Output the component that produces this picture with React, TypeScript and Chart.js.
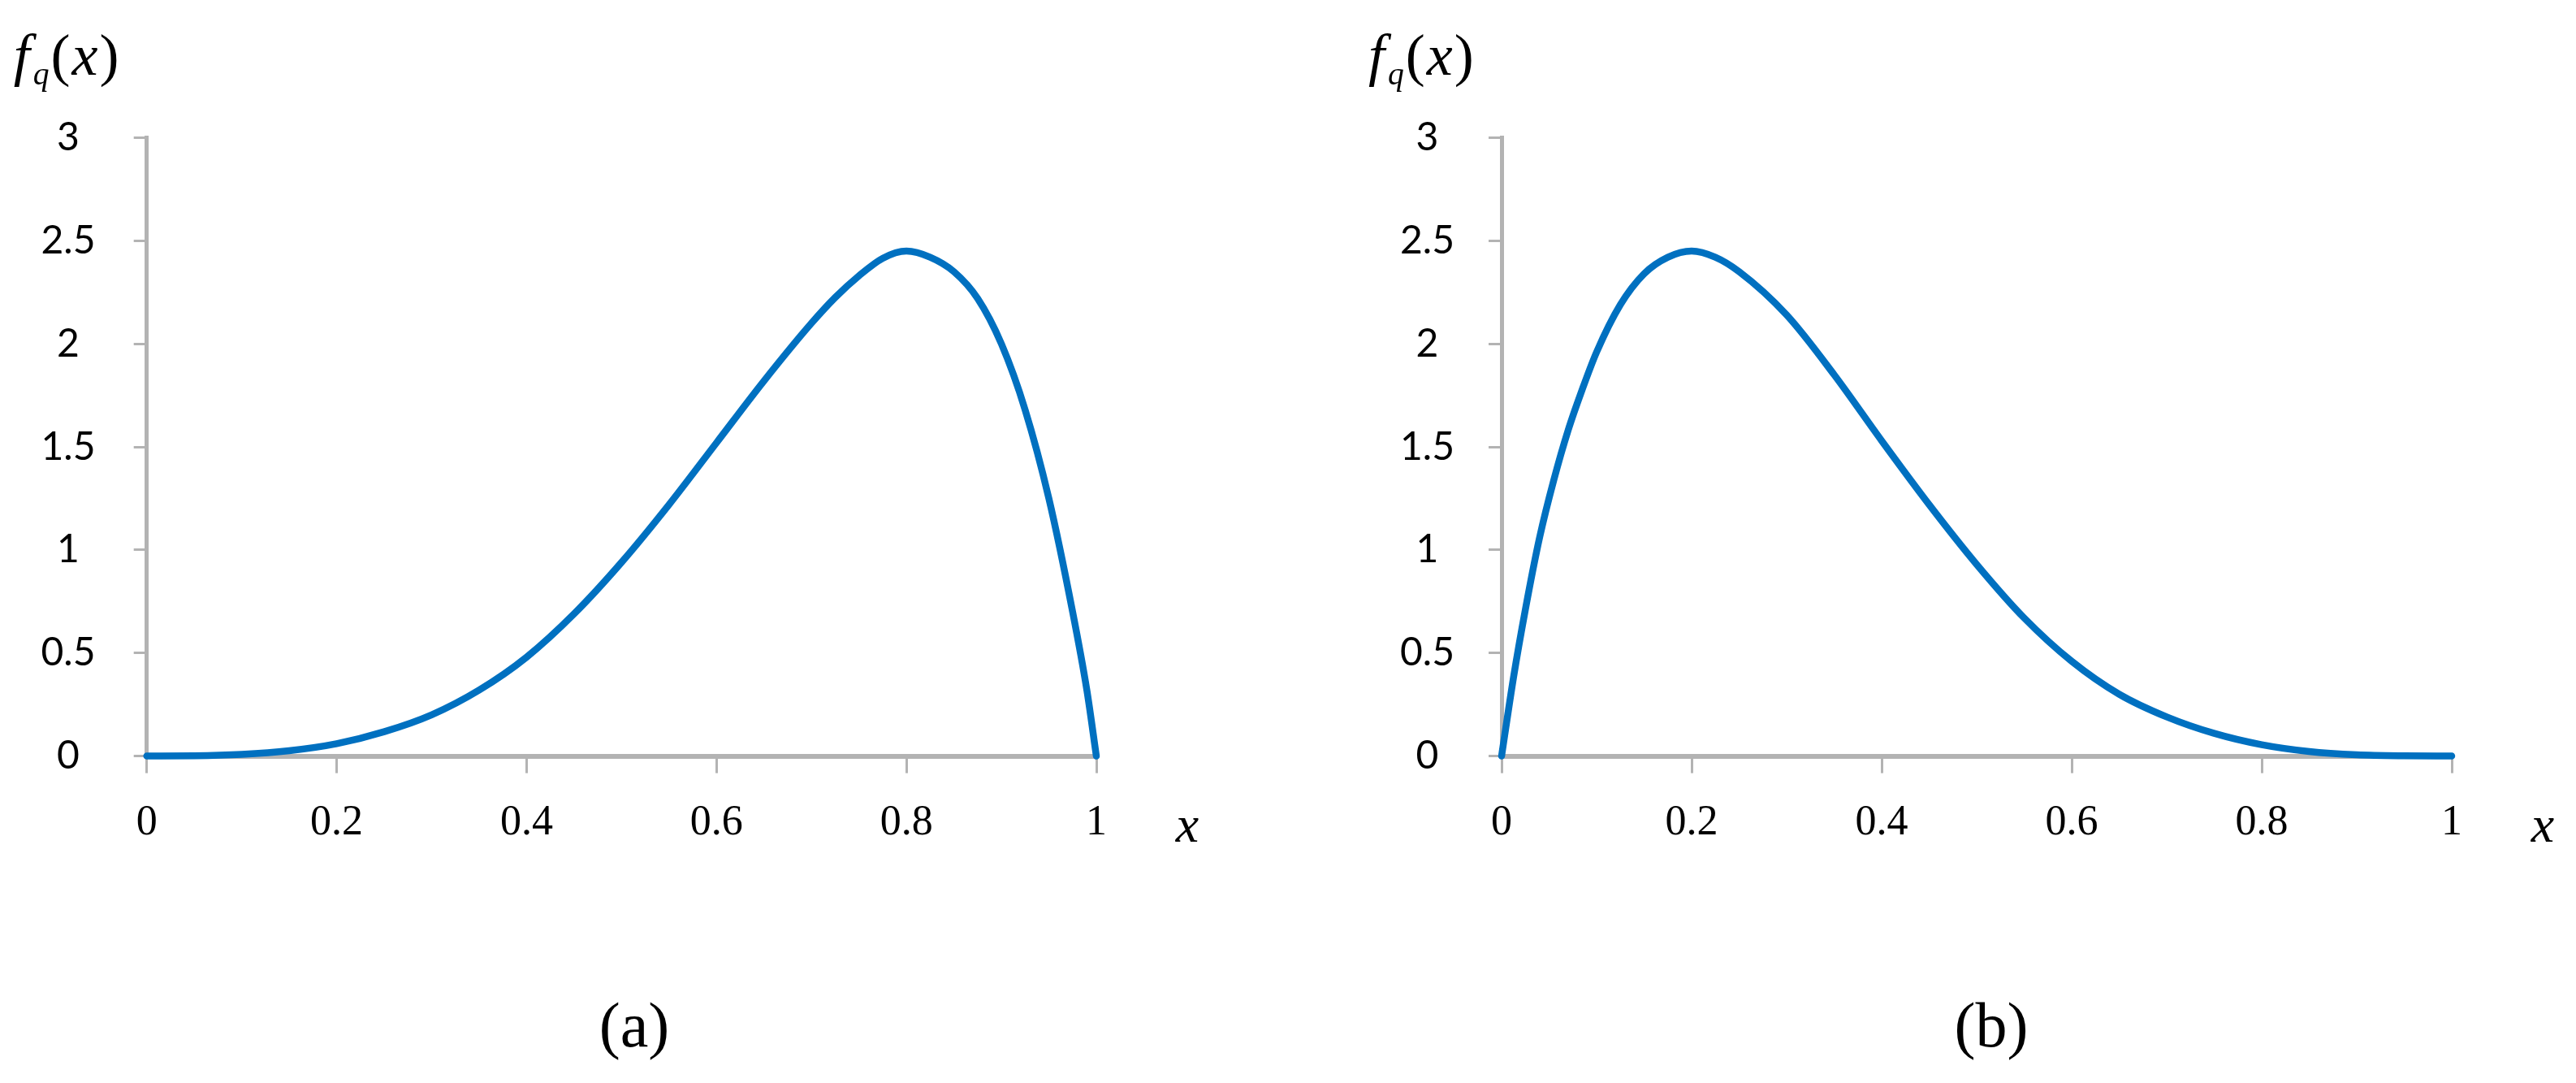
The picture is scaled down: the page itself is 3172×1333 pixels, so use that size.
import React, { useEffect, useRef } from 'react';
import { Chart, registerables } from 'chart.js';

Chart.register(...registerables);

// ---- data ----
const panelAX = [0, 0.05, 0.1, 0.15, 0.2, 0.25, 0.3, 0.35, 0.4, 0.45, 0.5, 0.55, 0.6, 0.65, 0.7, 0.725, 0.75, 0.775, 0.8, 0.825, 0.85, 0.875, 0.9, 0.925, 0.95, 0.975, 0.99, 1];
const panelAY = [0, 0.001, 0.008, 0.026, 0.06, 0.118, 0.2, 0.32, 0.48, 0.69, 0.94, 1.22, 1.52, 1.82, 2.1, 2.225, 2.33, 2.415, 2.45, 2.42, 2.35, 2.22, 2.0, 1.68, 1.25, 0.7, 0.32, 0];

const panelBX = [0, 0.0125, 0.025, 0.04, 0.055, 0.07, 0.085, 0.1, 0.125, 0.15, 0.175, 0.2, 0.225, 0.25, 0.3, 0.35, 0.4, 0.45, 0.5, 0.55, 0.6, 0.65, 0.7, 0.75, 0.8, 0.85, 0.9, 0.95, 1];
const panelBY = [0, 0.38, 0.71, 1.06, 1.34, 1.58, 1.78, 1.96, 2.19, 2.34, 2.42, 2.45, 2.42, 2.35, 2.14, 1.85, 1.53, 1.22, 0.93, 0.67, 0.46, 0.3, 0.19, 0.11, 0.055, 0.022, 0.006, 0.001, 0];

const xTickValues = [0, 0.2, 0.4, 0.6, 0.8, 1];
const yTickValues = [0, 0.5, 1, 1.5, 2, 2.5, 3];
const panelLabels = ['(a)', '(b)'];
const yAxisTitle = 'f';
const yAxisTitleSub = 'q';
const xAxisTitle = 'x';

// ---- layout ----
const W = 3172;
const H = 1333;
const PLOT_TOP = 169.5;
const PLOT_BOTTOM = 930.6;
const X_AXIS_H = 150;
const Y_TICK_LEN = 16;
const X_TICK_LEN = 21;
const Y_FONT_FAMILY = 'Lato';
const Y_FONT_SIZE = 48;
const X_FONT_FAMILY = '"Liberation Serif"';
const X_FONT_SIZE = 52;
const AXIS_GRAY = '#B3B3B3';
const LINE_BLUE = '#0070C0';

type Panel = {
  canvasLeft: number;
  canvasWidth: number;
  axisLeft: number;
  axisRight: number;
  yLabelCenter: number;
  xs: number[];
  ys: number[];
  label: string;
  labelCenter: number;
};

const panels: Panel[] = [
  { canvasLeft: 0, canvasWidth: 1586, axisLeft: 180.7, axisRight: 1350, yLabelCenter: 84, xs: panelAX, ys: panelAY, label: panelLabels[0], labelCenter: 781 },
  { canvasLeft: 1586, canvasWidth: 1586, axisLeft: 1849, axisRight: 3019, yLabelCenter: 1757.5, xs: panelBX, ys: panelBY, label: panelLabels[1], labelCenter: 2452 },
];

function measureWidest(labels: string[], font: string): number {
  const c = document.createElement('canvas');
  const ctx = c.getContext('2d');
  if (!ctx) return 60;
  ctx.font = font;
  let w = 0;
  labels.forEach((l) => { w = Math.max(w, ctx.measureText(l).width); });
  return w;
}

function ChartPanel({ p }: { p: Panel }) {
  const ref = useRef<HTMLCanvasElement | null>(null);
  useEffect(() => {
    if (!ref.current) return;
    const axisW = p.axisLeft - p.canvasLeft;
    const widest = measureWidest(yTickValues.map((v) => String(v)), `${Y_FONT_SIZE}px ${Y_FONT_FAMILY}`);
    const yPad = axisW - Y_TICK_LEN - (p.yLabelCenter - p.canvasLeft) - widest / 2;
    const xPad = 1013.5 - PLOT_BOTTOM - X_TICK_LEN - (X_FONT_SIZE * 1.2) / 2;
    const chart = new Chart(ref.current, {
      type: 'line',
      data: {
        datasets: [
          {
            data: p.xs.map((x, i) => ({ x, y: p.ys[i] })),
            borderColor: LINE_BLUE,
            borderWidth: 8.5,
            pointRadius: 0,
            fill: false,
            cubicInterpolationMode: 'monotone',
            borderCapStyle: 'round',
            borderJoinStyle: 'round',
            clip: 10,
          },
        ],
      },
      options: {
        animation: false,
        responsive: false,
        maintainAspectRatio: false,
        events: [],
        layout: {
          padding: {
            left: 0,
            top: PLOT_TOP,
            right: p.canvasWidth - (p.axisRight - p.canvasLeft),
            bottom: H - PLOT_BOTTOM - X_AXIS_H,
          },
        },
        plugins: { legend: { display: false }, tooltip: { enabled: false }, title: { display: false } },
        scales: {
          x: {
            type: 'linear',
            min: 0,
            max: 1,
            afterBuildTicks: (s: any) => { s.ticks = xTickValues.map((v) => ({ value: v })); },
            afterFit: (s: any) => { s.height = X_AXIS_H; },
            ticks: {
              autoSkip: false,
              maxRotation: 0,
              padding: xPad,
              color: '#000',
              font: { family: X_FONT_FAMILY, size: X_FONT_SIZE },
              callback: (v: any) => String(v),
            },
            grid: { drawOnChartArea: false, drawTicks: true, tickLength: X_TICK_LEN, tickColor: AXIS_GRAY, tickWidth: 3 },
            border: { display: true, color: AXIS_GRAY, width: 6 },
          },
          y: {
            type: 'linear',
            min: 0,
            max: 3,
            afterBuildTicks: (s: any) => { s.ticks = yTickValues.map((v) => ({ value: v })); },
            afterFit: (s: any) => { s.width = axisW; },
            ticks: {
              autoSkip: false,
              crossAlign: 'center',
              padding: yPad,
              color: '#000',
              font: { family: Y_FONT_FAMILY, size: Y_FONT_SIZE },
              callback: (v: any) => String(v),
            },
            grid: { drawOnChartArea: false, drawTicks: true, tickLength: Y_TICK_LEN, tickColor: AXIS_GRAY, tickWidth: 3 },
            border: { display: true, color: AXIS_GRAY, width: 5 },
          },
        },
      } as any,
    });
    return () => chart.destroy();
  }, [p]);
  return (
    <canvas
      ref={ref}
      width={p.canvasWidth}
      height={H}
      style={{ position: 'absolute', left: p.canvasLeft, top: 0, width: p.canvasWidth, height: H, display: 'block' }}
    />
  );
}

const serifItalic: React.CSSProperties = {
  position: 'absolute',
  fontFamily: '"Liberation Serif", serif',
  fontStyle: 'italic',
  lineHeight: 1,
  whiteSpace: 'nowrap',
  color: '#000',
};

export default function App() {
  return (
    <div style={{ position: 'absolute', left: 0, top: 0, width: W, height: H, background: '#fff', overflow: 'hidden' }}>
      {panels.map((p, i) => (
        <React.Fragment key={i}>
          <ChartPanel p={p} />
          <div style={{ ...serifItalic, left: p.axisLeft - 164, top: 92 - 0.8375 * 72, fontSize: 72, letterSpacing: 2 }}>
            {yAxisTitle}
            <span style={{ fontSize: '0.55em', position: 'relative', top: '0.3em', marginLeft: 2 }}>{yAxisTitleSub}</span>
            <span style={{ fontStyle: 'normal' }}>(</span>
            {xAxisTitle}
            <span style={{ fontStyle: 'normal' }}>)</span>
          </div>
          <div style={{ ...serifItalic, left: p.axisRight + 112, top: 1037 - 0.8375 * 64, fontSize: 64, transform: 'translateX(-50%)' }}>
            {xAxisTitle}
          </div>
          <div style={{ ...serifItalic, fontStyle: 'normal', left: p.labelCenter, top: 1288 - 0.8375 * 78, fontSize: 78, transform: 'translateX(-50%)' }}>
            {p.label}
          </div>
        </React.Fragment>
      ))}
    </div>
  );
}
